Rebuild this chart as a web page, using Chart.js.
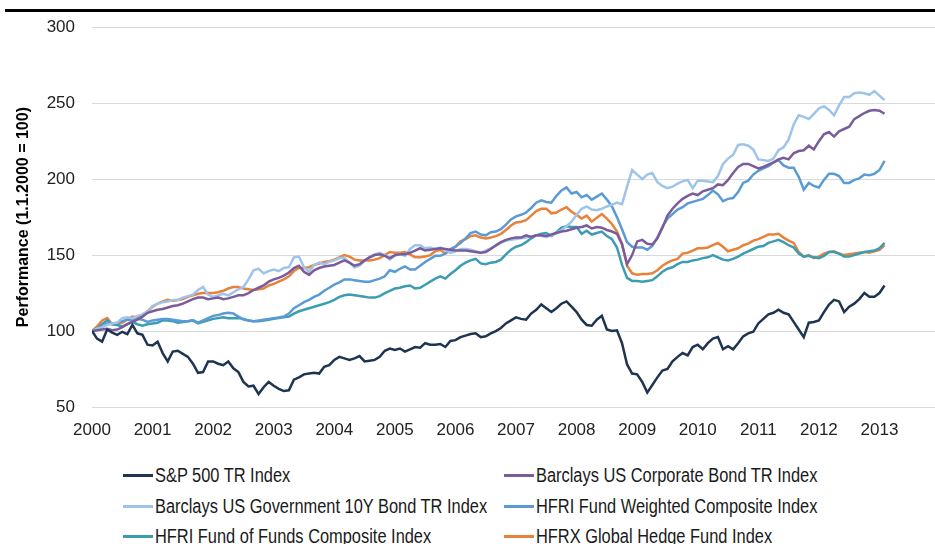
<!DOCTYPE html>
<html>
<head>
<meta charset="utf-8">
<script src="https://cdn.jsdelivr.net/npm/chart.js@4.4.0/dist/chart.umd.min.js"></script>
<style>
  body { margin: 0; background: #fff; }
  #wrap { position: relative; width: 935px; height: 544px; overflow: hidden; font-family: 'Liberation Sans', Arial, sans-serif; }
  #rule { position: absolute; left: 5px; top: 9px; width: 930px; height: 3px; background: #000; }
  #chart { position: absolute; left: 0; top: 0; }
  .item { position: absolute; height: 30px; display: flex; align-items: center; font-size: 20px; color: #1a1a1a; white-space: nowrap; }
  .swatch { display: inline-block; width: 30px; height: 3px; margin-right: 2px; flex: none; }
  .txt { display: inline-block; transform: scaleX(0.82); transform-origin: left center; }
</style>
</head>
<body>
<div id="wrap">
  <div id="rule"></div>
  <canvas id="chart" width="935" height="450"></canvas>
  <div id="legend"></div>
</div>
<script>
// monthly index levels, Jan 2000 .. Feb 2013 (1.1.2000 = 100)
var years = ['2000', '2001', '2002', '2003', '2004', '2005', '2006', '2007', '2008', '2009', '2010', '2011', '2012', '2013']

var spx = [
  100, 95, 93, 101, 99, 97.5, 99.5, 98, 104, 98.5, 97.5, 91,
  90.5, 93, 85.5, 80, 86.5, 87, 85, 83, 78.5, 72.5, 73, 80,
  80, 78.5, 77.5, 80, 75.5, 73, 66.5, 63.5, 64, 58.5, 63, 66.5,
  64, 62, 60.5, 61, 68, 69.5, 71.5, 72, 72.5, 72, 76.5, 77.5,
  81, 83, 82, 81, 82, 83.5, 80, 80.5, 81, 83, 87, 88.5,
  87.5, 88.5, 86.5, 88, 89.5, 89, 92, 91, 91, 91.5, 89.5, 93.5,
  94, 96, 97, 98, 98.5, 96, 96.5, 98.5, 100, 102, 105, 107,
  109, 108, 107.5, 111.5, 114, 117.5, 115, 112.5, 115, 118, 119.5, 116,
  112.5, 107.5, 104, 103.5, 107.5, 110, 101, 100, 100.5, 92, 78, 72,
  71.5, 66.5, 59.5, 64.5, 69.5, 74, 75, 80, 83, 85.5, 84, 89.5,
  91, 88, 92, 95, 96, 88, 90, 88, 92, 96.5, 98.5, 99.5,
  105, 108, 111, 112, 114, 112, 111, 106, 101, 96, 105.5, 106,
  107, 112.5, 117.5, 120.5, 119.5, 112.5, 116, 118, 121, 125, 122.5, 122.5,
  125, 130
]
var corpBond = [
  100, 100.5, 101, 101.5, 100.5, 101, 102.5, 104.5, 106, 107.5, 109.5, 112,
  113, 114, 114.5, 115.5, 116.5, 117, 118, 119.5, 121, 122, 122, 121,
  121.5, 122, 121, 121.5, 122.5, 123.5, 123.5, 125, 127, 128.5, 130, 132.5,
  134, 135, 136.5, 138.5, 141.5, 143, 139, 137, 140, 141.5, 142.5, 143,
  143.5, 145, 146.5, 145, 143, 144, 146.5, 148.5, 150, 150.5, 149.5, 148,
  150, 150.5, 150.5, 151.5, 153, 154.5, 153, 153.5, 154, 154.5, 154, 153.5,
  153, 153, 153, 152.5, 152, 151.5, 152, 154, 156.5, 158.5, 160, 161,
  161.5, 161.5, 163, 162, 163, 163, 162.5, 163.5, 164.5, 165.5, 166, 167,
  168, 168.5, 169.5, 167.5, 168.5, 168, 166.5, 165.5, 164, 157, 144, 150,
  159, 160, 157.5, 157, 161, 168, 176, 180.5, 184, 187, 189, 190.5,
  189.5, 192, 193, 194, 196.5, 196, 199.5, 204, 208, 210, 210, 208.5,
  207, 208, 209.5, 211, 213, 214, 213, 217, 218.5, 219, 222, 219.5,
  225, 229.5, 231, 228, 231.5, 233, 234.5, 239.5, 241.5, 243.5, 245, 245.5,
  245, 243
]
var govBond = [
  100, 101.5, 102.5, 104, 105, 105.5, 108.5, 109, 108.5, 110, 111, 113,
  116.5, 118, 119, 119.5, 120.5, 120.5, 122, 123, 124, 127, 129, 124,
  122.5, 123.5, 124.5, 123.5, 125.5, 127.5, 129, 134, 140, 141, 138, 139.5,
  140.5, 139.5, 141.5, 142, 148.5, 149, 142, 139, 143.5, 145, 144, 145.5,
  146.5, 148, 148, 145, 142, 143, 146, 149, 150.5, 151.5, 150, 147,
  149.5, 151, 149.5, 154, 156.5, 156.5, 154.5, 155, 154, 155, 153.5, 151.5,
  152.5, 154, 154, 153.5, 152.5, 151.5, 153, 154.5, 156, 158, 159.5, 160,
  160.5, 161, 161.5, 162, 163, 162.5, 162, 163, 164.5, 166.5, 169, 172,
  176.5, 180.5, 182, 180, 179.5, 180.5, 182, 183, 184.5, 183.5, 195, 206,
  203, 200, 203, 204, 198, 195.5, 194, 195, 197, 198.5, 199.5, 194,
  199, 199, 198.5, 198, 202, 210, 213.5, 216, 222.5, 223, 222, 219.5,
  213, 212.5, 212, 213.5, 219, 221, 226, 236, 242, 241, 239.5, 243,
  246.5, 248, 245.5, 242, 248.5, 254, 254, 256.5, 257, 256.5, 255.5, 258,
  255, 252
]
var hfriFw = [
  100, 101, 103, 105, 105, 105.5, 106.5, 107.5, 107, 108, 107.5, 106,
  107, 107.5, 108, 108, 107.5, 107, 106.5, 106.5, 107, 105.5, 107, 108.5,
  110, 110.5, 111.5, 112, 111.5, 109.5, 107.5, 107, 106.5, 107, 107.5, 108,
  108.5, 109, 109.5, 111.5, 115, 117, 119, 120.5, 122.5, 124, 126.5, 128.5,
  130.5, 132, 134, 134, 133.5, 133, 132.5, 132.5, 133.5, 134.5, 136, 140,
  139, 141, 142.5, 140.5, 140.5, 143, 145.5, 147.5, 149.5, 149.5, 151, 154,
  155.5, 158, 161, 164.5, 165.5, 163.5, 163, 165, 165.5, 167, 170, 173.5,
  175.5, 176.5, 178, 181, 184.5, 186, 185, 184.5, 189, 192.5, 194.5, 190.5,
  191.5, 188, 189.5, 186.5, 188.5, 190.5, 186.5, 182, 175, 167, 158.5, 155.5,
  155, 155, 153.5, 156, 161.5, 168.5, 174, 177, 180, 181.5, 184, 185,
  186, 187, 189.5, 192.5, 190, 185.5, 187, 187.5, 191.5, 197.5, 199, 203,
  205.5, 207, 208.5, 211, 212.5, 209, 207.5, 207.5, 201.5, 193, 197.5, 195.5,
  194.5, 199.5, 203.5, 203.5, 202, 197.5, 197.5, 199.5, 200.5, 203, 202.5, 203.5,
  206, 212
]
var hfriFof = [
  100, 101.5, 104.5, 107, 104.5, 104, 103, 104.5, 106, 104.5, 103.5, 104.5,
  105, 105.5, 107, 107, 106.5, 105.5, 106, 106.5, 107, 105, 106, 107,
  108, 108.5, 109, 108.5, 108.5, 108.5, 108, 107, 106.5, 106.5, 107, 107.5,
  108, 108.5, 109, 109.5, 111.5, 113, 114, 115, 116, 117, 118, 119,
  120.5, 122.5, 123.5, 124, 123.5, 123, 122.5, 122, 122, 123, 125, 126.5,
  128, 128.5, 129.5, 130, 128, 128.5, 130.5, 132.5, 134.5, 136, 134.5, 137.5,
  140, 143, 145, 146.5, 147.5, 144.5, 144, 145, 145.5, 147, 150.5, 153.5,
  155.5, 156.5, 158.5, 161, 163, 164, 164.5, 162.5, 165, 168, 169, 168.5,
  168.5, 164, 166, 163.5, 164.5, 165.5, 162.5, 160.5, 155, 143.5, 135, 133,
  133, 132.5, 133, 133.5, 136, 139, 141, 142, 144, 145.5, 145.5, 146.5,
  147, 148, 148.5, 150, 148.5, 147, 146.5, 147.5, 149, 151, 152.5, 154,
  155.5, 156, 158, 159, 160, 158.5, 156.5, 155, 151, 149, 149.5, 148.5,
  148, 149.5, 152, 152, 151, 149, 149, 150, 151, 152, 152.5, 153,
  154.5, 158
]
var hfrx = [
  100, 103, 107, 108.5, 104.5, 104.5, 105.5, 107.5, 109.5, 109, 110.5, 113,
  116, 118, 119.5, 120.5, 120, 120.5, 121, 122.5, 123.5, 124.5, 125, 125,
  125, 125.5, 126.5, 128, 129, 129, 128, 127.5, 127, 127.5, 128, 130,
  131, 132.5, 134, 136, 139.5, 141.5, 141.5, 142, 143.5, 144.5, 145.5, 146,
  147, 148.5, 150, 149, 147, 146.5, 146.5, 146.5, 147, 148, 150, 152,
  151.5, 151.5, 152, 150.5, 148.5, 148.5, 149, 150, 152.5, 153.5, 151, 153,
  155.5, 159, 160.5, 162.5, 163, 161.5, 161, 161.5, 162.5, 164, 166.5, 169.5,
  171.5, 172, 173, 176, 179, 180.5, 180.5, 177.5, 178, 180, 181.5, 178.5,
  176.5, 174, 176, 172, 174.5, 177, 174, 170.5, 165.5, 157.5, 143, 138,
  137, 137.5, 137.5, 138, 140, 143, 145, 146.5, 147.5, 151, 151.5, 153,
  154.5, 154.5, 155, 156.5, 158, 155.5, 152.5, 153.5, 154.5, 156.5, 157.5, 159.5,
  160.5, 162, 163.5, 163.5, 164, 161.5, 159.5, 158, 152, 149, 150, 148,
  149, 151, 152, 152.5, 151, 150, 150.5, 151, 151.5, 152, 151.5, 152.5,
  153.5, 156.5
]

var series = [
  { label: 'S&P 500 TR Index', data: spx, color: '#1f3450' },
  { label: 'Barclays US Corporate Bond TR Index', data: corpBond, color: '#7b5c9b' },
  { label: 'Barclays US Government 10Y Bond TR Index', data: govBond, color: '#9fc4e9' },
  { label: 'HFRI Fund Weighted Composite Index', data: hfriFw, color: '#5b9bd5' },
  { label: 'HFRI Fund of Funds Composite Index', data: hfriFof, color: '#3c9db2' },
  { label: 'HFRX Global Hedge Fund Index', data: hfrx, color: '#e8823a' },
]

var tickFont = { family: "'Liberation Sans', Arial, sans-serif", size: 17 }

var ctx = document.getElementById('chart').getContext('2d')
var chart = new Chart(ctx, {
  type: 'line',
  data: {
    datasets: series.map(function (s) {
      return {
        label: s.label,
        data: s.data.map(function (v, i) { return { x: i, y: v } }),
        borderColor: s.color,
        backgroundColor: s.color,
        borderWidth: 2.5,
        pointRadius: 0,
        tension: 0,
      }
    }),
  },
  options: {
    responsive: false,
    animation: false,
    layout: { padding: { top: 24, right: 0, bottom: 0, left: 0 } },
    plugins: { legend: { display: false }, tooltip: { enabled: false } },
    scales: {
      x: {
        type: 'linear',
        min: 0,
        max: 167,
        grid: { display: false, drawTicks: false },
        border: { display: false },
        afterFit: function (scale) { scale.height = 43 },
        afterBuildTicks: function (scale) {
          scale.ticks = years.map(function (y, k) { return { value: k * 12 } })
        },
        ticks: {
          padding: 13,
          font: tickFont,
          color: '#222',
          maxRotation: 0,
          autoSkip: false,
          callback: function (v) { return years[v / 12] },
        },
      },
      y: {
        min: 50,
        max: 300,
        afterFit: function (scale) { scale.width = 92 },
        grid: { color: '#d9d9d9', drawTicks: false },
        border: { display: false },
        ticks: { stepSize: 50, padding: 17, font: tickFont, color: '#222' },
        title: {
          display: true,
          text: 'Performance (1.1.2000 = 100)',
          color: '#000',
          font: { family: "'Liberation Sans', Arial, sans-serif", size: 16, weight: 'bold' },
          padding: { top: 14, bottom: 0 },
        },
      },
    },
  },
})

// legend in two columns, like the original
var legend = document.getElementById('legend')
var colX = [123, 504]
var rowY = [475, 506, 536]
series.forEach(function (s, k) {
  var item = document.createElement('div')
  item.className = 'item'
  item.style.left = colX[k % 2] + 'px'
  item.style.top = (rowY[Math.floor(k / 2)] - 15) + 'px'
  var sw = document.createElement('span')
  sw.className = 'swatch'
  sw.style.background = s.color
  var tx = document.createElement('span')
  tx.className = 'txt'
  tx.textContent = s.label
  item.appendChild(sw)
  item.appendChild(tx)
  legend.appendChild(item)
})
</script>
</body>
</html>
